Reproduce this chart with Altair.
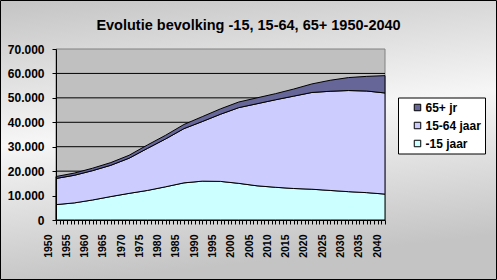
import altair as alt
import pandas as pd

# ---- data ----
years = list(range(1950, 2041, 5))
kids = [6300, 7000, 8200, 9600, 10900, 12100, 13600, 15200, 15900, 15800,
        15000, 14000, 13400, 12900, 12600, 12100, 11600, 11200, 10600]
working = [10700, 11300, 12000, 12800, 14400, 17200, 19600, 22200, 24400, 27500,
           31000, 33600, 35800, 37800, 39600, 40600, 41400, 41600, 41400]
elderly = [800, 900, 1000, 1100, 1200, 1400, 1500, 1700, 2000, 2200,
           2300, 2400, 2500, 2900, 3500, 4500, 5300, 6000, 7100]
series_names = ["-15 jaar", "15-64 jaar", "65+ jr"]
legend_order = ["65+ jr", "15-64 jaar", "-15 jaar"]
legend_colors = ["#666699", "#ccccff", "#ccffff"]
y_ticks = [0, 10000, 20000, 30000, 40000, 50000, 60000, 70000]
grid_values = [10000, 20000, 30000, 40000, 50000, 60000]
x_ticks = list(range(1950, 2041))
chart_title = "Evolutie bevolking -15, 15-64, 65+ 1950-2040"

rows = []
for i, (name, vals) in enumerate(zip(series_names, [kids, working, elderly])):
    for yr, v in zip(years, vals):
        rows.append({"jaar": yr, "reeks": name, "waarde": v, "orde": i})
df = pd.DataFrame(rows)

FONT = "Liberation Sans"
W, H = 329, 171
PAD = {"left": 56, "top": 49, "right": 497 - 56 - W, "bottom": 280 - 49 - H}

one = pd.DataFrame({"k": [0]})

yscale = alt.Scale(domain=[0, 70000], nice=False, zero=True)
xscale = alt.Scale(domain=[1950, 2040], nice=False, zero=False)

yaxis = alt.Axis(
    values=y_ticks, title=None, grid=False, zindex=1,
    labelExpr="replace(format(datum.value, ','), ',', '.')",
    labelFont=FONT, labelFontSize=12, labelFontWeight="bold", labelColor="black",
    labelPadding=8, tickSize=4, tickColor="black", domainColor="black",
    labelOverlap=False, labelFlush=False,
)
xaxis = alt.Axis(
    values=x_ticks, title=None, grid=False, zindex=1,
    labelExpr="datum.value % 5 == 0 ? '' + datum.value : ''",
    labelAngle=270, labelAlign="right", labelBaseline="middle",
    labelFont=FONT, labelFontSize=10.5, labelFontWeight="bold", labelColor="black",
    labelPadding=10, labelOffset=-8, tickSize=4, tickColor="black",
    domainColor="black", labelOverlap=False, labelFlush=False, labelBound=False,
)

bg = alt.Chart(one).mark_rect(
    fill=alt.LinearGradient(
        gradient="linear",
        stops=[alt.GradientStop(color="#c4c4c4", offset=0),
               alt.GradientStop(color="#f6f6f6", offset=0.5),
               alt.GradientStop(color="#c4c4c4", offset=1)],
        x1=0, x2=0.2, y1=0, y2=1),
    stroke="black", strokeWidth=1,
).encode(
    x=alt.value(-PAD["left"] + 0.5), x2=alt.value(W + PAD["right"] - 0.5),
    y=alt.value(-PAD["top"] + 0.5), y2=alt.value(H + PAD["bottom"] - 0.5),
)

title_mark = alt.Chart(one).mark_text(
    font=FONT, fontSize=14.5, fontWeight="bold", color="black",
    align="center", baseline="alphabetic",
).encode(
    x=alt.value(248.5 - PAD["left"]), y=alt.value(30 - PAD["top"]),
    text=alt.value(chart_title),
)

plot_bg = alt.Chart(one).mark_rect(
    fill="#c0c0c0", stroke="#808080", strokeWidth=1,
).encode(x=alt.value(0), x2=alt.value(W), y=alt.value(0), y2=alt.value(H))

grid = alt.Chart(pd.DataFrame({"waarde": grid_values})).mark_rule(
    color="black", strokeWidth=1,
).encode(y=alt.Y("waarde:Q", scale=yscale, axis=yaxis))

areas = alt.Chart(df).mark_area(
    stroke="black", strokeWidth=1, interpolate="linear", opacity=1,
).encode(
    x=alt.X("jaar:Q", scale=xscale, axis=xaxis),
    y=alt.Y("waarde:Q", stack="zero", scale=yscale, axis=yaxis),
    color=alt.Color(
        "reeks:N", title=None,
        scale=alt.Scale(domain=legend_order, range=legend_colors),
        legend=alt.Legend(
            orient="none", legendX=342, legendY=48.5,
            fillColor="white", strokeColor="black", padding=4,
            symbolType="square", symbolSize=42, symbolOffset=9.5,
            symbolStrokeColor="black", symbolStrokeWidth=1,
            labelFont=FONT, labelFontSize=12, labelFontWeight="bold",
            labelColor="black", labelOffset=2, rowPadding=6,
            labelExpr="datum.label + '   '",
        ),
    ),
    order=alt.Order("orde:Q", sort="ascending"),
)

chart = alt.layer(bg, title_mark, plot_bg, grid, areas).properties(
    width=W, height=H, padding=PAD,
    autosize=alt.AutoSizeParams(type="none"),
).configure(background="white").configure_view(strokeWidth=0)

chart.save("out.html", embed_options={"renderer": "svg", "actions": False})
